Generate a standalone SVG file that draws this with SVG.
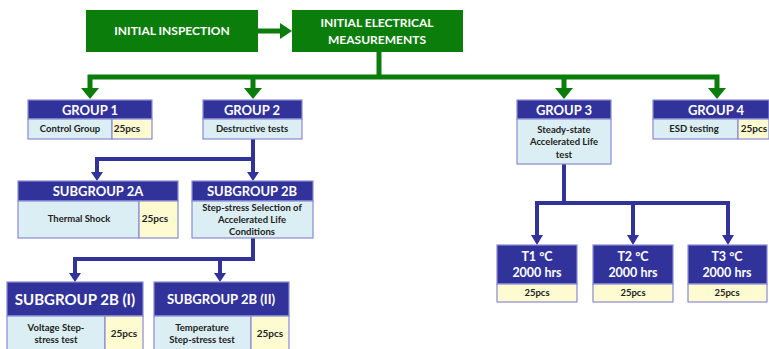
<svg xmlns="http://www.w3.org/2000/svg" width="769" height="349" viewBox="0 0 769 349">
<defs>
<style>
.g{fill:#0b7d0b}
.gl{stroke:#0b7d0b;stroke-width:5;fill:none}
.bl{stroke:#32339a;stroke-width:4;fill:none}
.ba{fill:#32339a}
.hd{fill:#32339a;stroke:#8a8ad6;stroke-width:1.2}
.bd{fill:#dbeef3;stroke:#8a8ad6;stroke-width:1.2}
.yl{fill:#fdfbcf;stroke:#8a8ad6;stroke-width:1.2}
text{font-family:Lato,"Liberation Sans",sans-serif;font-weight:bold;text-anchor:middle}
.hw{fill:#ffffff;font-size:13px}
.tw{fill:#ffffff;font-size:12.5px}
.bt{fill:#222222;font-size:9.5px}
.gt{fill:#ffffff;font-size:12px}
</style>
</defs>
<rect width="769" height="349" fill="#ffffff"/>
<g id="connectors">
<line class="gl" x1="258" y1="31" x2="282" y2="31"/>
<polygon class="g" points="280,23 292,31 280,39"/>
<line class="gl" x1="379" y1="52" x2="379" y2="77"/>
<polyline class="gl" points="90,90 90,77 717,77 717,90"/>
<line class="gl" x1="253" y1="77" x2="253" y2="90"/>
<line class="gl" x1="564" y1="77" x2="564" y2="90"/>
<polygon class="g" points="81,88 99,88 90,99"/>
<polygon class="g" points="244,88 262,88 253,99"/>
<polygon class="g" points="555,88 573,88 564,99"/>
<polygon class="g" points="708,88 726,88 717,99"/>
<polyline class="bl" points="253,139 253,159 97,159 97,173"/>
<line class="bl" x1="253" y1="159" x2="253" y2="173"/>
<polygon class="ba" points="91,172 103,172 97,181"/>
<polygon class="ba" points="247,172 259,172 253,181"/>
<polyline class="bl" points="253,238 253,259 75,259 75,274"/>
<line class="bl" x1="220" y1="259" x2="220" y2="274"/>
<polygon class="ba" points="69,273 81,273 75,282"/>
<polygon class="ba" points="214,273 226,273 220,282"/>
<line class="bl" x1="564" y1="164" x2="564" y2="203"/>
<polyline class="bl" points="537,236 537,203 728,203 728,236"/>
<line class="bl" x1="633" y1="203" x2="633" y2="236"/>
<polygon class="ba" points="531,235 543,235 537,245"/>
<polygon class="ba" points="627,235 639,235 633,245"/>
<polygon class="ba" points="722,235 734,235 728,245"/>
</g>
<g id="initial-inspection">
<rect class="g" x="86" y="10" width="172" height="42"/>
<text class="gt" x="172" y="35">INITIAL INSPECTION</text>
</g>
<g id="initial-electrical">
<rect class="g" x="292" y="10" width="171" height="42"/>
<text class="gt" x="377" y="27">INITIAL ELECTRICAL</text>
<text class="gt" x="377" y="44">MEASUREMENTS</text>
</g>
<g id="group1">
<rect class="hd" x="28" y="100" width="124" height="19"/>
<text class="hw" x="90" y="115">GROUP 1</text>
<rect class="bd" x="28" y="119" width="84" height="20"/>
<rect class="yl" x="112" y="119" width="40" height="20"/>
<text class="bt" x="70" y="132">Control Group</text>
<text class="bt" x="127" y="132" style="font-size:10px">25pcs</text>
</g>
<g id="group2">
<rect class="hd" x="203" y="100" width="99" height="19"/>
<text class="hw" x="252" y="115">GROUP 2</text>
<rect class="bd" x="203" y="119" width="99" height="20"/>
<text class="bt" x="252" y="132">Destructive tests</text>
</g>
<g id="group3">
<rect class="hd" x="517" y="100" width="94" height="19"/>
<text class="hw" x="564" y="115">GROUP 3</text>
<rect class="bd" x="517" y="119" width="94" height="45"/>
<text class="bt" x="564" y="133">Steady-state</text>
<text class="bt" x="564" y="145">Accelerated Life</text>
<text class="bt" x="564" y="158">test</text>
</g>
<g id="group4">
<rect class="hd" x="653" y="100" width="116" height="19"/>
<text class="hw" x="716" y="115">GROUP 4</text>
<rect class="bd" x="653" y="119" width="85" height="20"/>
<rect class="yl" x="738" y="119" width="31" height="20"/>
<text class="bt" x="694" y="132">ESD testing</text>
<text class="bt" x="754" y="132" style="font-size:10px">25pcs</text>
</g>
<g id="subgroup2a">
<rect class="hd" x="18" y="181" width="160" height="20"/>
<text class="hw" x="98" y="196">SUBGROUP 2A</text>
<rect class="bd" x="18" y="201" width="121" height="37"/>
<rect class="yl" x="139" y="201" width="39" height="37"/>
<text class="bt" x="79" y="222">Thermal Shock</text>
<text class="bt" x="155" y="222" style="font-size:10px">25pcs</text>
</g>
<g id="subgroup2b">
<rect class="hd" x="192" y="181" width="121" height="20"/>
<text class="hw" x="252" y="196">SUBGROUP 2B</text>
<rect class="bd" x="192" y="201" width="121" height="37"/>
<text class="bt" x="252" y="211">Step-stress Selection of</text>
<text class="bt" x="252" y="223">Accelerated Life</text>
<text class="bt" x="252" y="235">Conditions</text>
</g>
<g id="subgroup2b-i">
<rect class="hd" x="7" y="282" width="136" height="34"/>
<text class="hw" x="75" y="305" style="font-size:15px">SUBGROUP 2B (I)</text>
<rect class="bd" x="7" y="316" width="98" height="40"/>
<rect class="yl" x="105" y="316" width="38" height="40"/>
<text class="bt" x="56" y="331">Voltage Step-</text>
<text class="bt" x="56" y="343">stress test</text>
<text class="bt" x="124" y="337" style="font-size:10px">25pcs</text>
</g>
<g id="subgroup2b-ii">
<rect class="hd" x="154" y="282" width="135" height="34"/>
<text class="hw" x="221" y="304">SUBGROUP 2B (II)</text>
<rect class="bd" x="154" y="316" width="97" height="40"/>
<rect class="yl" x="251" y="316" width="38" height="40"/>
<text class="bt" x="202" y="331">Temperature</text>
<text class="bt" x="202" y="343">Step-stress test</text>
<text class="bt" x="270" y="337" style="font-size:10px">25pcs</text>
</g>
<g id="t1">
<rect class="hd" x="497" y="245" width="80" height="39"/>
<text class="tw" x="537" y="261">T1 °C</text>
<text class="tw" x="537" y="277">2000 hrs</text>
<rect class="yl" x="497" y="284" width="80" height="18"/>
<text class="bt" x="537" y="296">25pcs</text>
</g>
<g id="t2">
<rect class="hd" x="593" y="245" width="80" height="39"/>
<text class="tw" x="633" y="261">T2 °C</text>
<text class="tw" x="633" y="277">2000 hrs</text>
<rect class="yl" x="593" y="284" width="80" height="18"/>
<text class="bt" x="633" y="296">25pcs</text>
</g>
<g id="t3">
<rect class="hd" x="688" y="245" width="79" height="39"/>
<text class="tw" x="727" y="261">T3 °C</text>
<text class="tw" x="727" y="277">2000 hrs</text>
<rect class="yl" x="688" y="284" width="79" height="18"/>
<text class="bt" x="727" y="296">25pcs</text>
</g>
</svg>
